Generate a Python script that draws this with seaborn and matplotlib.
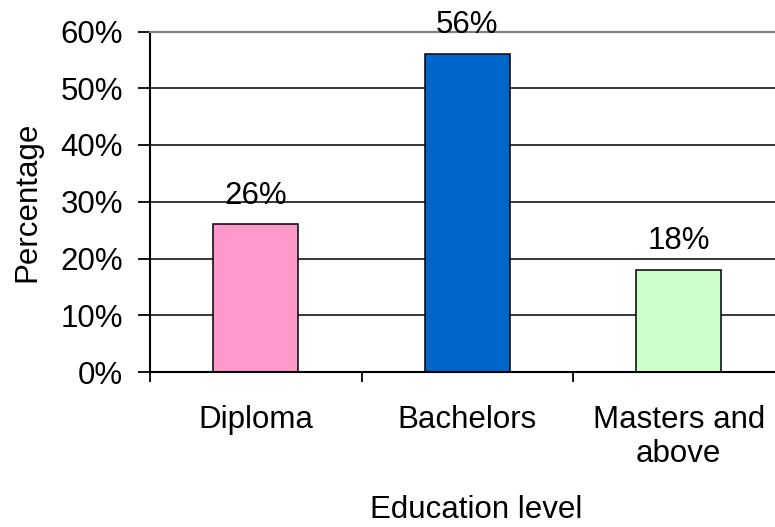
import matplotlib
matplotlib.use("Agg")
import matplotlib.pyplot as plt
import seaborn as sns
import pandas as pd
from matplotlib.ticker import FuncFormatter, MultipleLocator

# Share of respondents by highest education level
categories = ["Diploma", "Bachelors", "Masters and\nabove"]
percentages = [26, 56, 18]
bar_colors = ["#FF99CC", "#0066CC", "#CCFFCC"]

sns.set_theme(style="white")
plt.rcParams["font.family"] = ["Liberation Sans", "DejaVu Sans"]

FS = 22.5

df = pd.DataFrame({"level": categories, "pct": percentages})

fig = plt.figure(figsize=(7.75, 5.27), dpi=100)
fig.patch.set_facecolor("white")
ax = fig.add_axes([150 / 775, (527 - 372) / 527, 634.5 / 775, 340.5 / 527])

sns.barplot(data=df, x="level", y="pct", hue="level", palette=bar_colors,
            order=categories, hue_order=categories, legend=False,
            width=0.4, edgecolor="black", linewidth=1.1, saturation=1, ax=ax)

ax.set_xlim(-0.5, 2.5)
ax.set_ylim(0, 60)
ax.yaxis.set_major_locator(MultipleLocator(10))
ax.yaxis.set_major_formatter(FuncFormatter(lambda v, _: f"{v:.0f}%"))
ax.grid(axis="y", color="black", linewidth=1.1)
ax.set_axisbelow(True)

# category separators below the axis
ax.set_xticks([-0.5, 0.5, 1.5, 2.5], minor=True)
ax.tick_params(axis="x", which="minor", length=7.5, width=1.3, color="black",
               direction="out", bottom=True)
ax.tick_params(axis="x", which="major", length=0, pad=24, labelsize=FS,
               labelcolor="black")
ax.tick_params(axis="y", which="major", length=8.5, width=1.3, color="black",
               direction="out", left=True, pad=11, labelsize=FS,
               labelcolor="black")
for lbl in ax.get_xticklabels():
    lbl.set_linespacing(1.15)

for side in ["left", "bottom"]:
    ax.spines[side].set_color("black")
    ax.spines[side].set_linewidth(1.5)
ax.spines["top"].set_color("#808080")
ax.spines["top"].set_linewidth(1.6)
ax.spines["right"].set_visible(False)

ax.set_xlabel("Education level", fontsize=FS, color="black")
ax.set_ylabel("Percentage", fontsize=FS, color="black")
ax.xaxis.set_label_coords((476 - 150) / 634.5, -0.362)
ax.yaxis.set_label_coords(-0.169, 0.5)

for container in ax.containers:
    ax.bar_label(container, fmt="%.0f%%", padding=10, fontsize=FS, color="black")

fig.savefig("out.png", dpi=100, facecolor="white")
